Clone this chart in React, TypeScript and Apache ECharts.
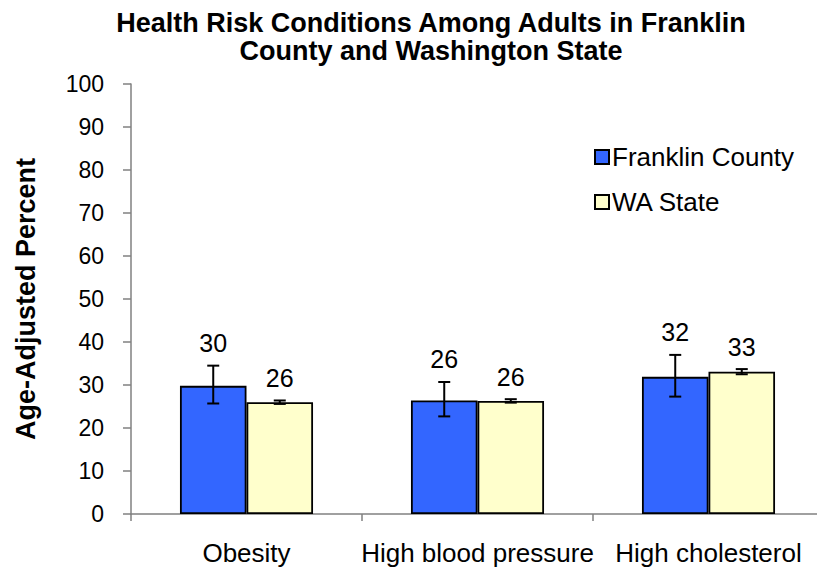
import React, { useEffect, useRef } from "react";
import * as echarts from "echarts";

const categories = ["Obesity", "High blood pressure", "High cholesterol"];
const seriesNames = ["Franklin County", "WA State"];
const franklinValues = [29.8, 26.4, 31.9];
const franklinLow = [25.7, 22.7, 27.3];
const franklinHigh = [34.5, 30.7, 37.0];
const waValues = [26.0, 26.3, 33.1];
const waLow = [25.6, 25.9, 32.5];
const waHigh = [26.4, 26.7, 33.7];
const yTicks = [0, 10, 20, 30, 40, 50, 60, 70, 80, 90, 100];

const FONT = "'Liberation Sans', Arial, sans-serif";
const BLUE = "#3366FF";
const YELLOW = "#FFFFCC";
const CAT_GAP = 0.424;

function errorSeries(name: string, values: number[], low: number[], high: number[], side: number) {
  return {
    type: "custom",
    name: name + " error",
    z: 10,
    silent: true,
    data: values.map((v, i) => [i, low[i], high[i], v]),
    renderItem: (params: any, api: any) => {
      const idx = api.value(0);
      const lo = api.value(1);
      const hi = api.value(2);
      const val = api.value(3);
      const band = api.size([1, 0])[0];
      const barW = (band * (1 - CAT_GAP)) / 2;
      const pHi = api.coord([idx, hi]);
      const pLo = api.coord([idx, lo]);
      const x = pHi[0] + (side * barW) / 2;
      const cap = 6;
      const st = { stroke: "#000", lineWidth: 2 };
      return {
        type: "group",
        children: [
          { type: "line", shape: { x1: x, y1: pHi[1], x2: x, y2: pLo[1] }, style: st },
          { type: "line", shape: { x1: x - cap, y1: pHi[1], x2: x + cap, y2: pHi[1] }, style: st },
          { type: "line", shape: { x1: x - cap, y1: pLo[1], x2: x + cap, y2: pLo[1] }, style: st },
          {
            type: "text",
            style: {
              text: String(Math.round(val)),
              x: x,
              y: pHi[1] - 10,
              align: "center",
              verticalAlign: "bottom",
              fontSize: 25,
              fontFamily: FONT,
              fill: "#000",
            },
          },
        ],
      };
    },
  };
}

export default function App() {
  const ref = useRef<HTMLDivElement>(null);
  useEffect(() => {
    document.body.style.margin = "0";
    document.body.style.overflow = "hidden";
    const chart = echarts.init(ref.current!, null, { renderer: "svg" });
    chart.setOption({
      animation: false,
      backgroundColor: "#fff",
      title: {
        text: "Health Risk Conditions Among Adults in Franklin\nCounty and Washington State",
        left: 426,
        top: 4,
        textAlign: "center",
        textStyle: { fontFamily: FONT, fontWeight: "bold", fontSize: 27, lineHeight: 28, color: "#000" },
      },
      legend: {
        orient: "vertical",
        left: 589,
        top: 139,
        itemWidth: 14,
        itemHeight: 14,
        itemGap: 19,
        data: seriesNames,
        icon: "rect",
        textStyle: { fontFamily: FONT, fontSize: 26, color: "#000", padding: [0, 0, 0, -2] },
      },
      grid: { left: 131, right: 6, top: 84, bottom: 57, containLabel: false },
      xAxis: {
        type: "category",
        data: categories,
        boundaryGap: true,
        axisLine: { lineStyle: { color: "#808080", width: 1.5 } },
        axisTick: { show: true, length: 7, inside: false, lineStyle: { color: "#808080", width: 1.5 } },
        axisLabel: { fontFamily: FONT, fontSize: 26, color: "#000", margin: 26, interval: 0 },
      },
      yAxis: {
        type: "value",
        min: 0,
        max: 100,
        interval: 10,
        name: "Age-Adjusted Percent",
        nameLocation: "middle",
        nameGap: 92,
        nameTextStyle: { fontFamily: FONT, fontWeight: "bold", fontSize: 27, color: "#000" },
        splitLine: { show: false },
        axisLine: { show: true, lineStyle: { color: "#808080", width: 1.5 } },
        axisTick: { show: true, length: 8, lineStyle: { color: "#808080", width: 1.5 } },
        axisLabel: {
          fontFamily: FONT,
          fontSize: 23,
          color: "#000",
          margin: 27,
          formatter: (v: number) => (yTicks.includes(v) ? String(v) : ""),
        },
      },
      series: [
        {
          type: "bar",
          name: seriesNames[0],
          data: franklinValues,
          barGap: "0%",
          barCategoryGap: "42.4%",
          itemStyle: { color: BLUE, borderColor: "#000", borderWidth: 1.8 },
        },
        {
          type: "bar",
          name: seriesNames[1],
          data: waValues,
          barGap: "0%",
          barCategoryGap: "42.4%",
          itemStyle: { color: YELLOW, borderColor: "#000", borderWidth: 1.8 },
        },
        errorSeries(seriesNames[0], franklinValues, franklinLow, franklinHigh, -1),
        errorSeries(seriesNames[1], waValues, waLow, waHigh, 1),
      ],
    });
    return () => chart.dispose();
  }, []);
  return (
    <div style={{ position: "absolute", left: 0, top: 0, width: 817, height: 571, overflow: "hidden" }}>
      <div ref={ref} style={{ width: 830, height: 571 }} />
    </div>
  );
}
